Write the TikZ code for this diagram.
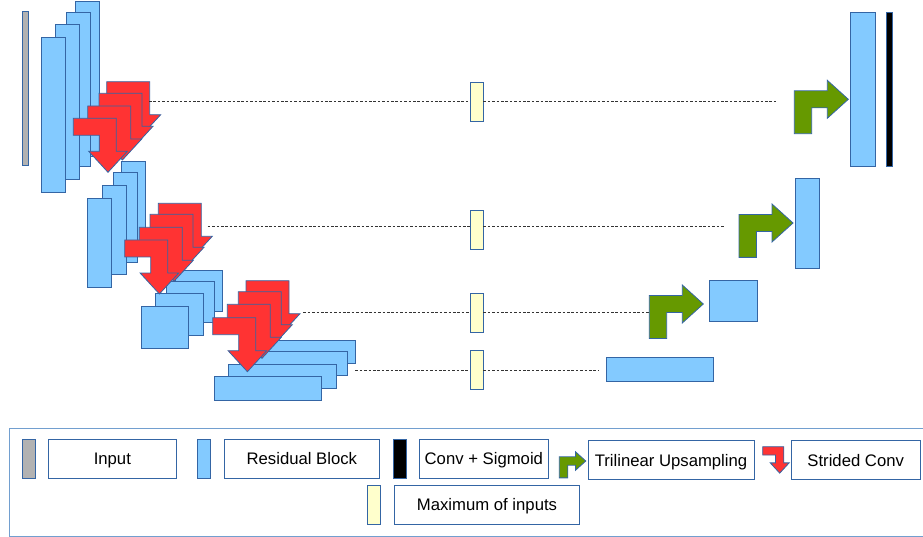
\documentclass[tikz,border=0pt]{standalone}
\usepackage{fontspec}
\setmainfont{Liberation Sans}
\usepackage{tikz}
\usetikzlibrary{positioning}

\definecolor{edgeblue}{HTML}{3465A4}
\definecolor{framecol}{HTML}{729FCF}
\definecolor{resfill}{HTML}{83CAFF}
\definecolor{stridefill}{HTML}{FF3333}
\definecolor{upfill}{HTML}{669900}
\definecolor{maxfill}{HTML}{FFFFCC}
\definecolor{inputfill}{HTML}{B2B2B2}

\begin{document}
\begin{tikzpicture}[x=1pt,y=-1pt,font=\fontsize{16.7}{20}\selectfont,
  resblock/.style={draw=edgeblue,fill=resfill,line width=0.9pt},
  maxbox/.style={draw=edgeblue,fill=maxfill,line width=0.9pt,inner sep=0pt,
    minimum width=13pt,minimum height=38.7pt},
  swatch/.style={draw=edgeblue,line width=0.9pt,inner sep=0pt,
    minimum width=13pt,minimum height=39pt},
  keybox/.style={draw=edgeblue,fill=white,line width=0.8pt,inner sep=0pt,
    minimum height=39pt,text height=12pt,text depth=0pt},
  skip/.style={black!80,line width=0.85pt,dash pattern=on 2.6pt off 1.8pt},
  upsample/.pic={\draw[edgeblue,fill=upfill,line width=0.8pt]
    (0,53.4) -- (0,10.5) -- (33,10.5) -- (33,0) -- (54,19) -- (33,38)
    -- (33,27.5) -- (17.4,27.5) -- (17.4,53.4) -- cycle;},
  strided/.pic={\draw[edgeblue,fill=stridefill,line width=0.8pt]
    (0,0) -- (43,0) -- (43,33) -- (54,33) -- (34.7,54) -- (15.4,33)
    -- (26,33) -- (26,17) -- (0,17) -- cycle;}]
\useasboundingbox (0,0) rectangle (923,537);
\clip (0,0) rectangle (923,537);

% encoder
\draw[edgeblue,fill=inputfill,line width=0.9pt] (22.5,11) rectangle (28.5,165);
\foreach \xa/\ya/\xb/\yb in {75/1.3/99/156, 66.7/12/90.7/166.7,
    55.3/24.7/79.3/179.3, 41/37.7/65/192.3,
    121.7/161.3/145.7/250.5, 113.3/172.7/137.3/262,
    102.3/185/126.3/274.3, 87.7/198/111.7/287,
    175/270/222.7/311.7, 166.7/281/214.7/322.5,
    155.7/293.5/203.3/335, 141/306.3/188.7/348,
    248/340/355.3/363.5, 239.7/351/347/375,
    228.7/364/336/388, 214/376.7/321.3/400.3}
  \draw[resblock] (\xa,\ya) rectangle (\xb,\yb);

\foreach \px/\py in {106.7/81.7, 99/93.3, 87.7/106, 73.3/118.3,
    158.3/203.3, 150/214.3, 139.3/227.3, 124.7/240,
    246/280.7, 238.3/291.7, 227.3/304.3, 212.7/317.7}
  \pic at (\px,\py) {strided};

% skip connections
\foreach \i/\y in {1/101.7,2/229.7,3/312.8,4/370.2}
  \node[maxbox] (max\i) at (476.5,\y) {};

\foreach \i/\xa/\y/\xb in {1/149/101.7/777.7, 2/207.7/226.3/725,
    3/303.3/312.7/649.3, 4/355.3/370/598.3} {
  \coordinate (skip\i) at (\xa,\y);
  \coordinate (join\i) at (\xb,\y);
  \draw[skip] (skip\i) -- (skip\i -| max\i.west);
  \draw[skip] (max\i.east |- skip\i) -- (join\i);
}

% decoder
\draw[resblock] (850.7,12.3) rectangle (875,166.7);
\draw[edgeblue,fill=black,line width=0.9pt] (886.7,12.3) rectangle (892.7,166.7);
\draw[resblock] (795.3,178.7) rectangle (819.7,268);
\draw[resblock] (709.3,280) rectangle (757.3,321.7);
\draw[resblock] (606.3,357.3) rectangle (713.3,381);
\foreach \px/\py in {794.3/80.3, 739/204, 649.3/285}
  \pic at (\px,\py) {upsample};

% legend
\draw[framecol,line width=0.9pt] (9,428) rectangle (935,536.3);
\node[swatch,fill=inputfill] (keyinput) at (28.5,458.8) {};
\node[keybox,minimum width=128.4pt,right=12.3pt of keyinput] (txtinput) {Input};
\node[swatch,fill=resfill] (keyres) at (204.2,458.8) {};
\node[keybox,minimum width=155.4pt,right=12.6pt of keyres] (txtres) {Residual Block};
\node[swatch,fill=black] (keyconv) at (399.8,458.8) {};
\node[keybox,minimum width=128.6pt,right=12.4pt of keyconv] (txtconv) {Conv + Sigmoid};
\pic[scale=0.49] at (559.3,451.7) {upsample};
\node[keybox,minimum width=166pt,minimum height=38.6pt] (txtup) at (671,460) {Trilinear Upsampling};
\pic[scale=0.49] at (762.7,446.7) {strided};
\node[keybox,minimum width=128.7pt,minimum height=38.6pt] (txtstride) at (855.7,460) {Strided Conv};
\node[swatch,fill=maxfill,minimum height=38.7pt] (keymax) at (373.8,504.7) {};
\node[keybox,minimum width=185.7pt,minimum height=38.7pt,right=13pt of keymax] (txtmax) {Maximum of inputs};
\end{tikzpicture}
\end{document}
